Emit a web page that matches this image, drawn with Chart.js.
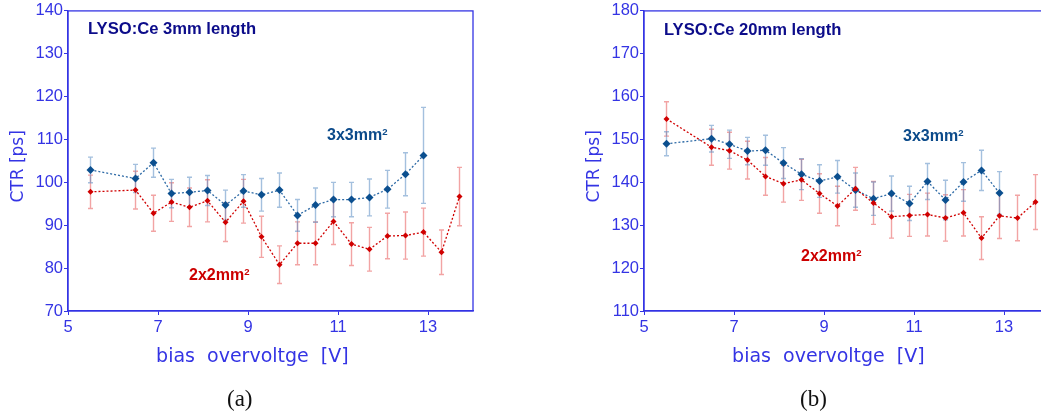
<!DOCTYPE html>
<html>
<head>
<meta charset="utf-8">
<script src="https://cdn.jsdelivr.net/npm/chart.js@4.4.0/dist/chart.umd.min.js"></script>
<style>
html, body { margin: 0; padding: 0; background: #fff; overflow: hidden; width: 1041px; height: 418px; }
.wrap { position: absolute; top: 0; width: 483px; height: 372px; }
.note { position: absolute; font-family: "Liberation Sans", Arial, sans-serif; font-weight: bold; white-space: nowrap; line-height: 1; }
.note sup { font-size: 60%; vertical-align: 0; position: relative; top: -0.55em; }
.cap { position: absolute; font-family: "Liberation Serif", "Times New Roman", serif; font-size: 23px; color: #111; line-height: 1; }
</style>
</head>
<body>
<div class="wrap" style="left:0"><canvas id="chartA"></canvas></div>
<div class="wrap" style="left:576px"><canvas id="chartB"></canvas></div>

<div class="note" style="left:88px;top:21px;font-size:16.6px;color:#0c0c8a">LYSO:Ce 3mm length</div>
<div class="note" style="left:327px;top:127px;font-size:16px;color:#0b4a8a">3x3mm<sup>2</sup></div>
<div class="note" style="left:189px;top:267px;font-size:16px;color:#cc0000">2x2mm<sup>2</sup></div>
<div class="note" style="left:664px;top:22px;font-size:16.6px;color:#0c0c8a">LYSO:Ce 20mm length</div>
<div class="note" style="left:903px;top:128px;font-size:16px;color:#0b4a8a">3x3mm<sup>2</sup></div>
<div class="note" style="left:801px;top:248px;font-size:16px;color:#cc0000">2x2mm<sup>2</sup></div>

<div class="cap" style="left:227px;top:387px">(a)</div>
<div class="cap" style="left:800px;top:387px">(b)</div>

<script>
// bias overvoltage points [V]
const biasBlue = [5.5, 6.5, 6.9, 7.3, 7.7, 8.1, 8.5, 8.9, 9.3, 9.7, 10.1, 10.5, 10.9, 11.3, 11.7, 12.1, 12.5, 12.9];
const biasRed = [5.5, 6.5, 6.9, 7.3, 7.7, 8.1, 8.5, 8.9, 9.3, 9.7, 10.1, 10.5, 10.9, 11.3, 11.7, 12.1, 12.5, 12.9, 13.3, 13.7];
const xTicks = [5, 7, 9, 11, 13];

// (a) 3mm length
const ctrA3x3 = [102.9, 100.9, 104.6, 97.4, 97.7, 98.1, 94.7, 98.0, 97.1, 98.2, 92.3, 94.7, 96.0, 96.0, 96.5, 98.4, 101.9, 106.3];
const errA3x3 = [3.0, 3.3, 3.4, 3.3, 3.5, 3.5, 3.5, 3.8, 3.8, 4.0, 3.7, 4.0, 4.0, 4.0, 4.3, 4.4, 5.0, 11.2];
const ctrA2x2 = [97.8, 98.2, 92.8, 95.4, 94.2, 95.7, 90.7, 95.6, 87.3, 80.8, 85.8, 85.8, 90.9, 85.6, 84.4, 87.5, 87.6, 88.4, 83.7, 96.7];
const errA2x2 = [3.9, 4.4, 4.2, 4.5, 4.5, 4.9, 4.5, 5.1, 4.8, 4.4, 5.0, 5.0, 5.4, 5.0, 5.1, 5.3, 5.5, 5.6, 5.2, 6.8];

// (b) 20mm length
const ctrB3x3 = [149.0, 150.2, 148.9, 147.3, 147.5, 144.5, 141.9, 140.3, 141.3, 138.2, 136.2, 137.4, 135.1, 140.2, 135.9, 140.1, 142.8, 137.5];
const errB3x3 = [2.8, 3.1, 3.3, 3.2, 3.5, 3.6, 3.6, 3.8, 3.8, 4.0, 3.9, 4.1, 4.0, 4.2, 4.6, 4.5, 4.7, 5.0];
const ctrB2x2 = [154.8, 148.2, 147.4, 145.2, 141.4, 139.7, 140.6, 137.4, 134.5, 138.5, 135.2, 132.0, 132.3, 132.5, 131.7, 132.9, 127.0, 132.2, 131.7, 135.4];
const errB2x2 = [4.0, 4.2, 4.3, 4.4, 4.4, 4.3, 4.8, 4.6, 4.6, 5.0, 5.0, 5.0, 4.9, 5.0, 5.4, 5.4, 5.0, 5.3, 5.3, 6.4];

const axisColor = "#3434e4";
const blue = "#0b4f8f";
const red = "#d00000";

// frame round the plot area and the error bars, both through the scales
const framePlugin = {
    id: "frame",
    beforeDatasetsDraw(chart) {
        const ctx = chart.ctx;
        const a = chart.chartArea;
        const xs = chart.scales.x, ys = chart.scales.y;
        ctx.save();
        chart.data.datasets.forEach(ds => {
            ctx.strokeStyle = ds.errorColor;
            ctx.lineWidth = 1.4;
            ds.data.forEach((p, i) => {
                const px = xs.getPixelForValue(p.x);
                const top = ys.getPixelForValue(p.y + ds.errors[i]);
                const bot = ys.getPixelForValue(p.y - ds.errors[i]);
                ctx.beginPath();
                ctx.moveTo(px, top); ctx.lineTo(px, bot);
                ctx.moveTo(px - 2.5, top); ctx.lineTo(px + 2.5, top);
                ctx.moveTo(px - 2.5, bot); ctx.lineTo(px + 2.5, bot);
                ctx.stroke();
            });
        });
        ctx.strokeStyle = axisColor;
        ctx.lineWidth = 1.3;
        ctx.strokeRect(a.left, a.top, a.right - a.left, a.bottom - a.top);
        ctx.restore();
    }
};

function toPoints(xs, ys) {
    return xs.map((x, i) => ({ x: x, y: ys[i] }));
}

function makeChart(id, blueVals, blueErr, redVals, redErr, yMin, yMax) {
    const tickFont = { family: "'Liberation Sans', Arial, sans-serif", size: 16.5 };
    new Chart(document.getElementById(id).getContext("2d"), {
        type: "line",
        data: {
            datasets: [{
                data: toPoints(biasRed, redVals),
                errors: redErr,
                errorColor: "rgba(232, 90, 90, 0.55)",
                borderColor: red,
                backgroundColor: red,
                borderWidth: 1.3,
                borderDash: [2, 2],
                pointStyle: "rectRot",
                pointRadius: 3,
                pointBorderWidth: 0
            }, {
                data: toPoints(biasBlue, blueVals),
                errors: blueErr,
                errorColor: "rgba(90, 140, 195, 0.55)",
                borderColor: "#2d6aa6",
                backgroundColor: blue,
                borderWidth: 1.3,
                borderDash: [2, 2],
                pointStyle: "rectRot",
                pointRadius: 4,
                pointBorderWidth: 0
            }]
        },
        options: {
            responsive: true,
            maintainAspectRatio: false,
            animation: false,
            layout: { padding: { top: 8, right: 10, left: 0, bottom: 0 } },
            plugins: { legend: { display: false }, tooltip: { enabled: false } },
            scales: {
                x: {
                    type: "linear",
                    min: 5,
                    max: 14,
                    afterBuildTicks: s => { s.ticks = xTicks.map(v => ({ value: v })); },
                    afterFit: s => { s.height = 61; },
                    ticks: { color: axisColor, font: tickFont, padding: 3, maxRotation: 0 },
                    grid: { drawOnChartArea: false, color: axisColor, tickLength: 4 },
                    border: { color: axisColor, width: 1.3 },
                    title: {
                        display: true,
                        // trailing spaces move the centred title left, as in the original
                        text: "bias  overvoltge  [V]      ",
                        color: axisColor,
                        font: { family: "'DejaVu Sans', sans-serif", size: 19 },
                        padding: { top: 4, bottom: 4 }
                    }
                },
                y: {
                    min: yMin,
                    max: yMax,
                    afterFit: s => { s.width = 68; },
                    ticks: { stepSize: 10, color: axisColor, font: tickFont, padding: 1 },
                    grid: { drawOnChartArea: false, color: axisColor, tickLength: 4 },
                    border: { color: axisColor, width: 1.3 },
                    title: {
                        display: true,
                        text: "CTR [ps]  ",
                        color: axisColor,
                        font: { family: "'DejaVu Sans', sans-serif", size: 17 },
                        padding: { top: 8, bottom: 0 }
                    }
                }
            }
        },
        plugins: [framePlugin]
    });
}

makeChart("chartA", ctrA3x3, errA3x3, ctrA2x2, errA2x2, 70, 140);
makeChart("chartB", ctrB3x3, errB3x3, ctrB2x2, errB2x2, 110, 180);
</script>
</body>
</html>
